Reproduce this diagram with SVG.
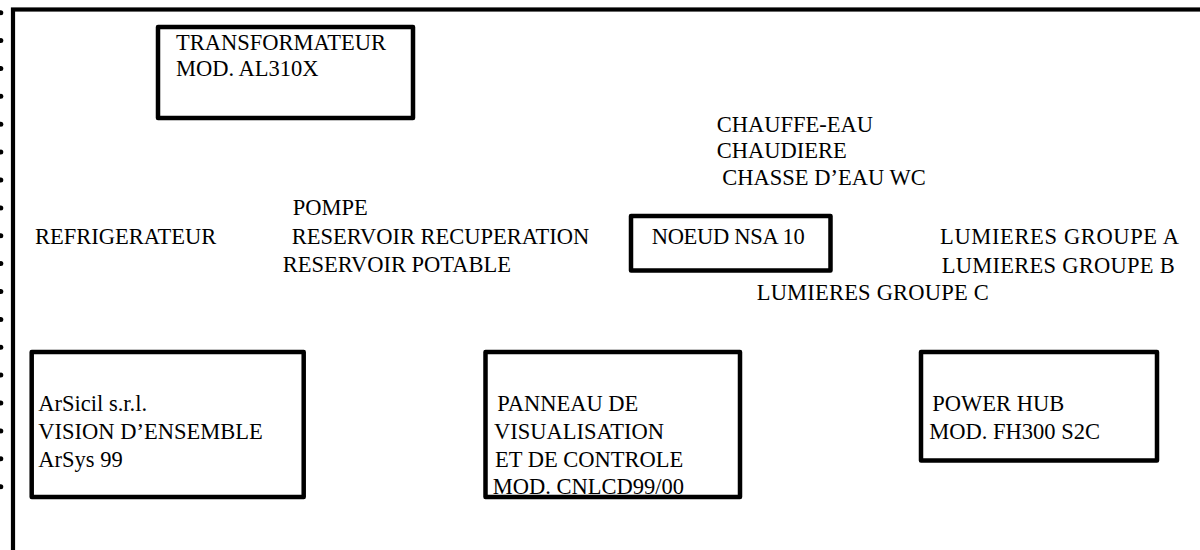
<svg xmlns="http://www.w3.org/2000/svg" width="1200" height="550" viewBox="0 0 1200 550">
<style>
.bx{fill:#fff;stroke:#000;stroke-width:4.5;stroke-linejoin:round}
.fr{fill:none;stroke:#000;stroke-width:4.2}
text{font-family:'Liberation Serif','Times New Roman','DejaVu Serif',serif;font-size:22.5px;fill:#000}
.dot{fill:#000}
</style>
<rect width="1200" height="550" fill="#fff"/>
<g id="margin-dots">
<circle class="dot" cx="0.8" cy="12.7" r="2.5"/>
<circle class="dot" cx="0.8" cy="40.6" r="2.5"/>
<circle class="dot" cx="0.8" cy="68.5" r="2.5"/>
<circle class="dot" cx="0.8" cy="96.3" r="2.5"/>
<circle class="dot" cx="0.8" cy="124.2" r="2.5"/>
<circle class="dot" cx="0.8" cy="152.1" r="2.5"/>
<circle class="dot" cx="0.8" cy="180.0" r="2.5"/>
<circle class="dot" cx="0.8" cy="207.9" r="2.5"/>
<circle class="dot" cx="0.8" cy="235.7" r="2.5"/>
<circle class="dot" cx="0.8" cy="263.6" r="2.5"/>
<circle class="dot" cx="0.8" cy="291.5" r="2.5"/>
<circle class="dot" cx="0.8" cy="319.4" r="2.5"/>
<circle class="dot" cx="0.8" cy="347.3" r="2.5"/>
<circle class="dot" cx="0.8" cy="375.1" r="2.5"/>
<circle class="dot" cx="0.8" cy="403.0" r="2.5"/>
<circle class="dot" cx="0.8" cy="430.9" r="2.5"/>
<circle class="dot" cx="0.8" cy="458.8" r="2.5"/>
<circle class="dot" cx="0.8" cy="486.7" r="2.5"/>
</g>
<g id="frame">
<rect class="fr" x="13" y="9.5" width="1250" height="600"/>
</g>
<g id="connectors"></g>
<g font-family="Liberation Serif, serif" font-size="22.5">
<g id="transformateur">
<rect class="bx" x="158" y="27" width="255" height="91"/>
<text x="176" y="49.5">TRANSFORMATEUR</text>
<text x="176" y="75.5">MOD. AL310X</text>
</g>
<g id="chauffe-group">
<text x="716.7" y="131.7">CHAUFFE-EAU</text>
<text x="716.7" y="158.3">CHAUDIERE</text>
<text x="722.3" y="185">CHASSE D’EAU WC</text>
</g>
<g id="refrigerateur">
<text x="35" y="244">REFRIGERATEUR</text>
</g>
<g id="pompe-group">
<text x="292.7" y="214.5">POMPE</text>
<text x="291.7" y="244">RESERVOIR RECUPERATION</text>
<text x="282.7" y="271.7">RESERVOIR POTABLE</text>
</g>
<g id="noeud">
<rect class="bx" x="631" y="216" width="199.5" height="54.5"/>
<text x="651.7" y="244" letter-spacing="-0.3">NOEUD NSA 10</text>
</g>
<g id="lumieres-group">
<text x="940" y="244" textLength="239">LUMIERES GROUPE A</text>
<text x="941.7" y="272.5" textLength="233">LUMIERES GROUPE B</text>
<text x="756.7" y="300" textLength="232">LUMIERES GROUPE C</text>
</g>
<g id="arsicil">
<rect class="bx" x="31.7" y="352" width="272" height="145"/>
<text x="38.3" y="411">ArSicil s.r.l.</text>
<text x="38.3" y="439">VISION D’ENSEMBLE</text>
<text x="38.3" y="466.7">ArSys 99</text>
</g>
<g id="panneau">
<rect class="bx" x="485.5" y="352" width="254.5" height="145"/>
<text x="497.3" y="411">PANNEAU DE</text>
<text x="494" y="439">VISUALISATION</text>
<text x="495" y="466.7">ET DE CONTROLE</text>
<text x="492.7" y="493.5">MOD. CNLCD99/00</text>
</g>
<g id="power-hub">
<rect class="bx" x="921" y="352" width="236" height="108.5"/>
<text x="932.3" y="411">POWER HUB</text>
<text x="929.3" y="439.3">MOD. FH300 S2C</text>
</g>
</g>
</svg>
